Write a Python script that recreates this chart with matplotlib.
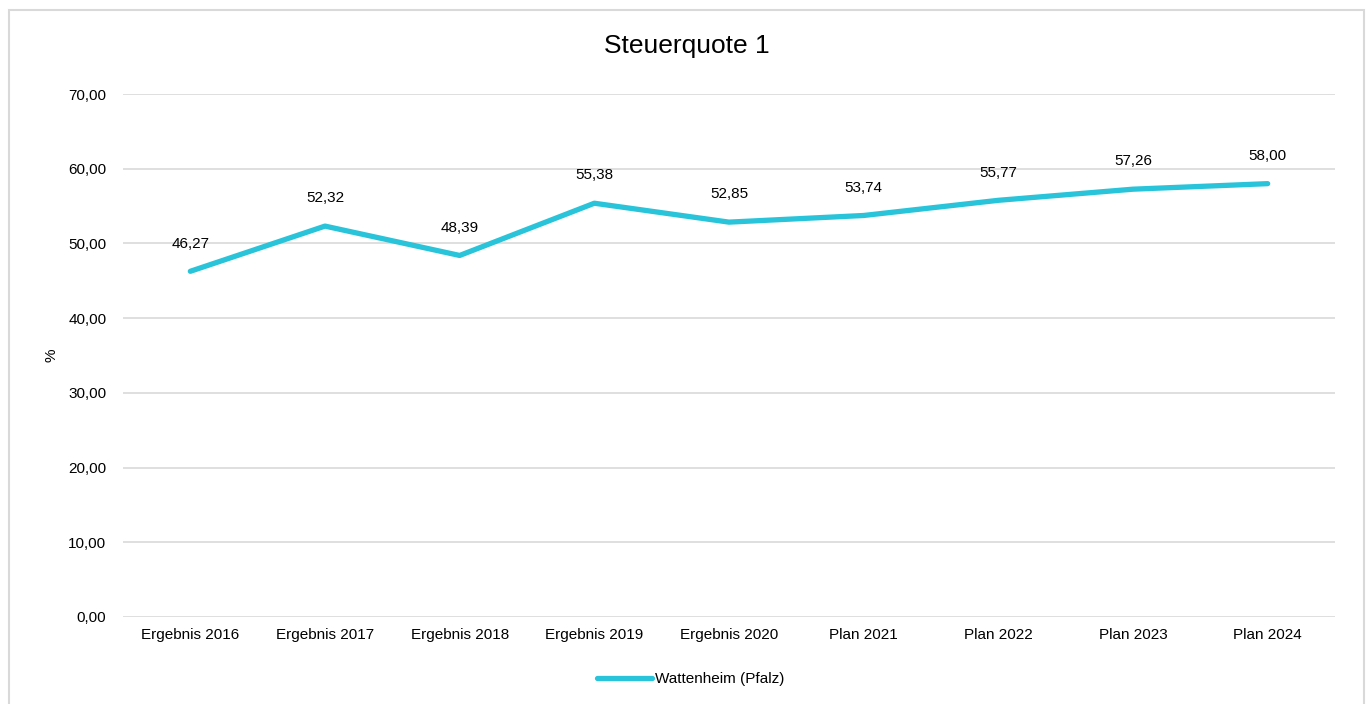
import matplotlib
matplotlib.use('Agg')
import matplotlib.pyplot as plt
from matplotlib.patches import Rectangle
from matplotlib.ticker import FuncFormatter

categories = ["Ergebnis 2016", "Ergebnis 2017", "Ergebnis 2018", "Ergebnis 2019",
              "Ergebnis 2020", "Plan 2021", "Plan 2022", "Plan 2023", "Plan 2024"]
values = [46.27, 52.32, 48.39, 55.38, 52.85, 53.74, 55.77, 57.26, 58.00]
series_name = "Wattenheim (Pfalz)"
yticks = [0, 10, 20, 30, 40, 50, 60, 70]

plt.rcParams['font.family'] = ['Liberation Sans', 'DejaVu Sans']

fig = plt.figure(figsize=(13.68, 7.04), dpi=100)
ax = fig.add_axes([123 / 1368, 1 - 617 / 704, 1212 / 1368, 523 / 704])

# outer chart border
fig.patches.append(Rectangle((9 / 1368, -0.05), 1355 / 1368, 1 - 10 / 704 + 0.05,
                             transform=fig.transFigure, fill=False,
                             edgecolor="#D9D9D9", linewidth=1.5))

x = list(range(len(categories)))
ax.plot(x, values, color="#29C4D9", linewidth=3.8, solid_capstyle="round",
        label=series_name)

for xi, v in zip(x, values):
    ax.annotate(f"{v:.2f}".replace(".", ","), (xi, v), xytext=(0, 20),
                textcoords="offset points", ha="center", va="center",
                fontsize=11, color="#000000")

ax.set_xlim(-0.5, len(categories) - 0.5)
ax.set_ylim(0, 70)
ax.set_yticks(yticks)
ax.yaxis.set_major_formatter(FuncFormatter(lambda v, p: f"{v:.2f}".replace(".", ",")))
ax.set_xticks(x)
ax.set_xticklabels(categories)
ax.tick_params(axis="both", length=0, labelsize=11, colors="#000000")
ax.tick_params(axis="y", pad=12)
ax.tick_params(axis="x", pad=8)
ax.grid(axis="y", color="#D9D9D9", linewidth=1.2)
ax.set_axisbelow(True)
for s in ax.spines.values():
    s.set_visible(False)

ax.set_ylabel("%", fontsize=11, va="center")
ax.yaxis.set_label_coords((52 - 123) / 1212, 0.5)
fig.text(687 / 1368, 1 - 46 / 704, "Steuerquote 1", ha="center", va="center", fontsize=19)

fig.legend(loc="center", bbox_to_anchor=(691 / 1368, 1 - 679 / 704), frameon=False,
           fontsize=11, handlelength=3.6, handletextpad=0.2)

plt.savefig("out.png", dpi=100)
plt.close()
